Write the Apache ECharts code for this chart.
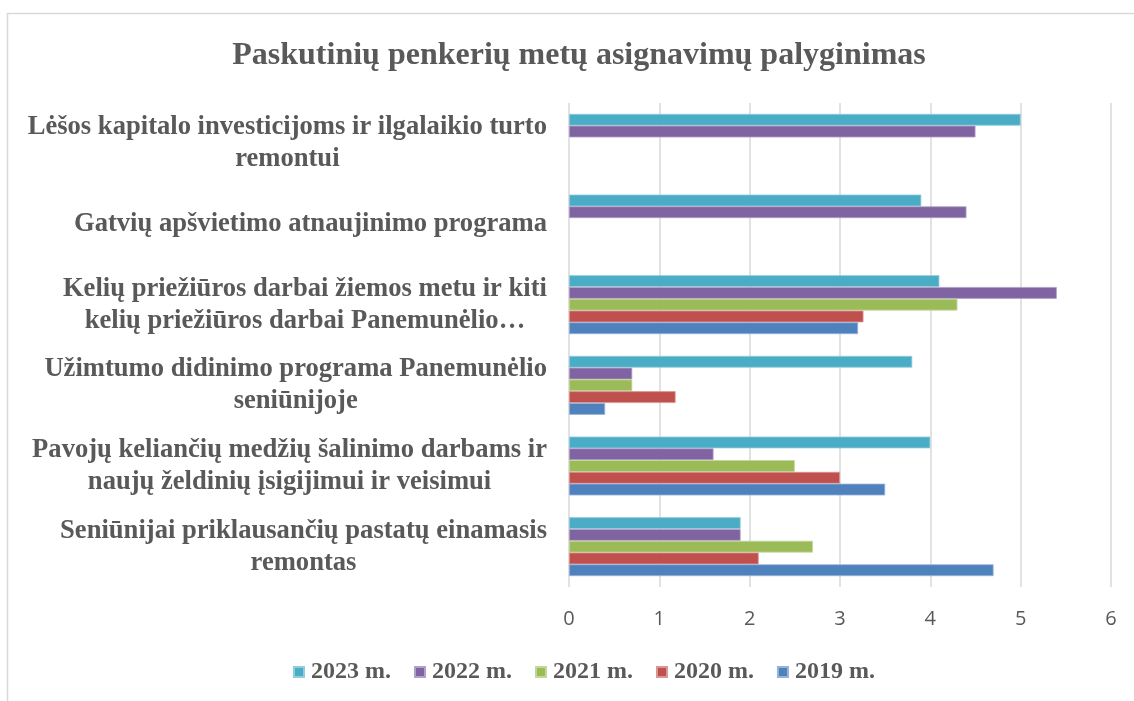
<!DOCTYPE html>
<html>
<head>
<meta charset="utf-8">
<title>Asignavimų palyginimas</title>
<script src="https://cdn.jsdelivr.net/npm/echarts@6/dist/echarts.min.js"></script>
<style>
    html, body { margin: 0; padding: 0; background: #fff; }
    #chart { width: 1134px; height: 701px; }
</style>
</head>
<body>
<div id="chart"></div>
<script>
// Kategorijos (iš apačios į viršų, kaip piešia ECharts)
var categories = [
    'Seniūnijai priklausančių pastatų einamasis\nremontas',
    'Pavojų keliančių medžių šalinimo darbams ir\nnaujų želdinių įsigijimui ir veisimui',
    'Užimtumo didinimo programa Panemunėlio\nseniūnijoje',
    'Kelių priežiūros darbai žiemos metu ir kiti\nkelių priežiūros darbai Panemunėlio…',
    'Gatvių apšvietimo atnaujinimo programa',
    'Lėšos kapitalo investicijoms ir ilgalaikio turto\nremontui'
];

// Reikšmės pagal metus (ta pačia tvarka kaip categories)
var y2023 = [1.9, 4.0, 3.8, 4.1, 3.9, 5.0];
var y2022 = [1.9, 1.6, 0.7, 5.4, 4.4, 4.5];
var y2021 = [2.7, 2.5, 0.7, 4.3, null, null];
var y2020 = [2.1, 3.0, 1.18, 3.26, null, null];
var y2019 = [4.7, 3.5, 0.4, 3.2, null, null];

// serijų tvarka = tvarka grupėje iš viršaus į apačią
var seriesNames = ['2023 m.', '2022 m.', '2021 m.', '2020 m.', '2019 m.'];
var xTicks = [0, 1, 2, 3, 4, 5, 6];

var colors = ['#4BACC6', '#8064A2', '#9BBB59', '#C0504D', '#4F81BD'];
var edgeColors = ['#92cddc', '#b1a0c7', '#c4d79b', '#da9694', '#95b3d7'];

var chart = echarts.init(document.getElementById('chart'));

var textGray = '#595959';
var serif = '"Liberation Serif", "Times New Roman", serif';

function makeSeries(name, data, i) {
    return {
        name: name,
        type: 'bar',
        data: data,
        barGap: '0%',
        barCategoryGap: '27%',
        itemStyle: {
            color: colors[i],
            borderColor: edgeColors[i],
            borderWidth: 0.8
        }
    };
}

var allData = [y2023, y2022, y2021, y2020, y2019];
var seriesList = [];
seriesNames.forEach(function (n, i) {
    seriesList.push(makeSeries(n, allData[i], i));
});

var option = {
    backgroundColor: '#fff',
    animation: false,
    color: colors,
    title: {
        text: 'Paskutinių penkerių metų asignavimų palyginimas',
        left: 574,
        top: 35,
        textAlign: 'center',
        textStyle: {
            fontFamily: serif,
            fontWeight: 'bold',
            fontSize: 32,
            color: textGray
        }
    },
    legend: {
        data: seriesNames,
        left: 288,
        top: 655,
        itemWidth: 10,
        itemHeight: 10,
        itemGap: 23,
        icon: 'rect',
        textStyle: {
            fontFamily: serif,
            fontWeight: 'bold',
            fontSize: 24,
            color: textGray,
            padding: [0, 0, 0, 2]
        }
    },
    grid: {
        left: 569,
        right: 23,
        top: 103,
        bottom: 114
    },
    xAxis: {
        type: 'value',
        min: 0,
        max: 6,
        interval: 1,
        axisLine: { show: false },
        axisTick: { show: false },
        splitLine: {
            show: true,
            lineStyle: { color: '#d9d9d9', width: 1.5 }
        },
        axisLabel: {
            margin: 22,
            fontFamily: '"Open Sans", sans-serif',
            fontSize: 20,
            color: textGray,
            formatter: function (v) {
                return xTicks.indexOf(v) >= 0 ? String(v) : '';
            }
        }
    },
    yAxis: {
        type: 'category',
        data: categories,
        axisLine: { show: false },
        axisTick: { show: false },
        axisLabel: {
            margin: 22,
            align: 'right',
            formatter: function (value) {
                return value.split('\n').map(function (s) {
                    return '{c|' + s + '}';
                }).join('\n');
            },
            rich: {
                c: {
                    fontFamily: serif,
                    fontWeight: 'bold',
                    fontSize: 26.6,
                    lineHeight: 32,
                    color: textGray,
                    align: 'center'
                }
            }
        }
    },
    graphic: [
        {
            type: 'polyline',
            silent: true,
            shape: { points: [[7.5, 760], [7.5, 13.5], [1200, 13.5]] },
            style: { stroke: '#d9d9d9', lineWidth: 1.5, fill: null }
        }
    ],
    series: seriesList
};

chart.setOption(option);
</script>
</body>
</html>
